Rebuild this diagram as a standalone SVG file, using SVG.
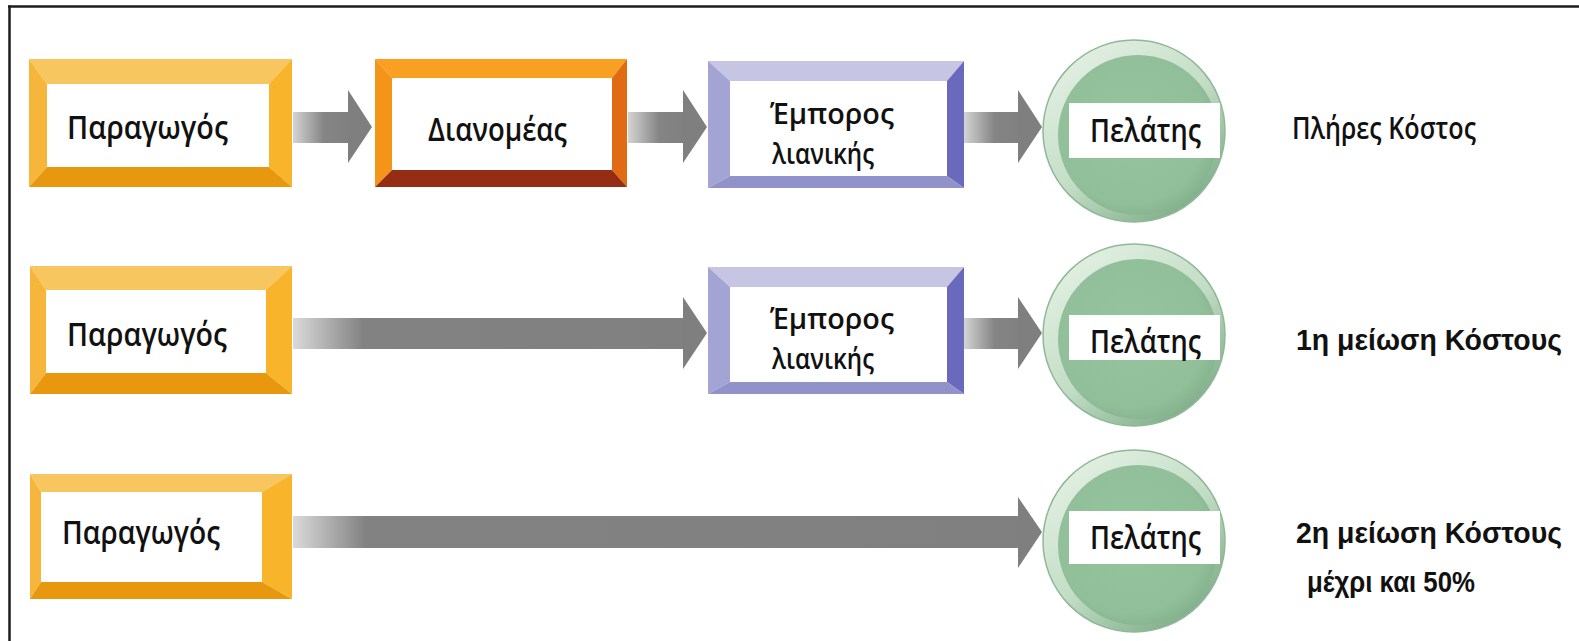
<svg xmlns="http://www.w3.org/2000/svg" width="1579" height="641" viewBox="0 0 1579 641">
<defs>
<linearGradient id="shS" x1="0" y1="0" x2="1" y2="0"><stop offset="0" stop-color="#d4d4d4"/><stop offset="0.55" stop-color="#858585"/><stop offset="1" stop-color="#808080"/></linearGradient>
<linearGradient id="shL2" x1="293" y1="0" x2="683" y2="0" gradientUnits="userSpaceOnUse"><stop offset="0" stop-color="#dadada"/><stop offset="0.18" stop-color="#828282"/><stop offset="1" stop-color="#808080"/></linearGradient>
<linearGradient id="shL3" x1="293" y1="0" x2="1018" y2="0" gradientUnits="userSpaceOnUse"><stop offset="0" stop-color="#dadada"/><stop offset="0.1" stop-color="#828282"/><stop offset="1" stop-color="#808080"/></linearGradient>
<linearGradient id="ring" x1="0.2" y1="0.1" x2="0.85" y2="0.95"><stop offset="0" stop-color="#e0eee0"/><stop offset="0.5" stop-color="#c2ddc5"/><stop offset="1" stop-color="#7aa984"/></linearGradient>
<radialGradient id="disc" cx="0.45" cy="0.45" r="0.6"><stop offset="0" stop-color="#96c49f"/><stop offset="0.8" stop-color="#90bf99"/><stop offset="1" stop-color="#82b18b"/></radialGradient>
</defs>
<style>
.lbl{font-family:"Open Sans","Liberation Sans",sans-serif;font-size:32px;fill:#111;font-weight:600}
.lbl2{font-family:"Open Sans","Liberation Sans",sans-serif;font-size:29px;fill:#111;font-weight:600}
.note{font-family:"Liberation Sans",Arial,sans-serif;font-size:29px;fill:#111;font-weight:bold}
.notem{font-family:"Open Sans","Liberation Sans",sans-serif;font-size:30px;fill:#111;font-weight:600}
.white{fill:#fff}
.y-t{fill:#f8c65e}.y-l{fill:#f6b63c}.y-r{fill:#f8b52c}.y-b{fill:#e8980e}
.o-t{fill:#f99f22}.o-l{fill:#f49419}.o-r{fill:#df6c14}.o-b{fill:#952d14}
.p-t{fill:#c6c6e4}.p-l{fill:#a3a3d4}.p-r{fill:#6a6abc}.p-b{fill:#9292cb}
.head{fill:#7f7f7f}
.ring{fill:url(#ring);stroke:#8fb897;stroke-width:1.5}
.disc{fill:url(#disc)}
</style>
<rect x="0" y="0" width="1579" height="641" fill="#fff"/>
<g id="frame" stroke="#1c1c1c" stroke-width="2.5" fill="none">
<line x1="8" y1="6.5" x2="1579" y2="6.5"/>
<line x1="9.5" y1="5.5" x2="9.5" y2="641"/>
</g>

<g id="connectors">
<rect x="293" y="112" width="56" height="31" fill="url(#shS)"/><polygon class="head" points="348,90 372,127 348,163"/>
<rect x="628" y="112" width="56" height="31" fill="url(#shS)"/><polygon class="head" points="683,90 707,127 683,163"/>
<rect x="964" y="112" width="55" height="31" fill="url(#shS)"/><polygon class="head" points="1018,90 1042,127 1018,163"/>
<rect x="293" y="318" width="391" height="31" fill="url(#shL2)"/><polygon class="head" points="683,297 707,333 683,369"/>
<rect x="964" y="318" width="55" height="31" fill="url(#shS)"/><polygon class="head" points="1018,297 1042,333 1018,369"/>
<rect x="293" y="516" width="726" height="32" fill="url(#shL3)"/><polygon class="head" points="1018,497 1042,532 1018,568"/>
</g>

<g id="n-producer-1">
<polygon class="y-t" points="29,59 292,59 269,84 47,84"/>
<polygon class="y-l" points="29,59 47,84 47,167 29,187"/>
<polygon class="y-r" points="292,59 292,187 269,167 269,84"/>
<polygon class="y-b" points="29,187 47,167 269,167 292,187"/>
<rect class="white" x="47" y="84" width="222" height="83"/>
<text class="lbl" x="67" y="139" textLength="161" lengthAdjust="spacingAndGlyphs">Παραγωγός</text>
</g>

<g id="n-distributor">
<polygon class="o-t" points="375,59 627,59 612,78 392,78"/>
<polygon class="o-l" points="375,59 392,78 392,170 375,187"/>
<polygon class="o-r" points="627,59 627,187 612,170 612,78"/>
<polygon class="o-b" points="375,187 392,170 612,170 627,187"/>
<rect class="white" x="392" y="78" width="220" height="92"/>
<text class="lbl" x="428" y="141" textLength="139" lengthAdjust="spacingAndGlyphs">Διανομέας</text>
</g>

<g id="n-retailer-1">
<polygon class="p-t" points="708,61 964,61 947,81 730,81"/>
<polygon class="p-l" points="708,61 730,81 730,176 708,188"/>
<polygon class="p-r" points="964,61 964,188 947,176 947,81"/>
<polygon class="p-b" points="708,188 730,176 947,176 964,188"/>
<rect class="white" x="730" y="81" width="217" height="95"/>
<text class="lbl2" x="770" y="124" textLength="124" lengthAdjust="spacingAndGlyphs">Έμπορος</text>
<text class="lbl2" x="772" y="164" textLength="102" lengthAdjust="spacingAndGlyphs">λιανικής</text>
</g>

<g id="n-customer-1">
<circle class="ring" cx="1134" cy="131" r="91"/>
<circle class="disc" cx="1138" cy="135" r="80"/>
<rect class="white" x="1069" y="103" width="151" height="55"/>
<text class="lbl" x="1090" y="142" textLength="111" lengthAdjust="spacingAndGlyphs">Πελάτης</text>
</g>
<g id="t-full-cost"><text class="notem" x="1292" y="139" textLength="184" lengthAdjust="spacingAndGlyphs">Πλήρες Κόστος</text></g>

<g id="n-producer-2">
<polygon class="y-t" points="30,266 292,266 266,290 46,290"/>
<polygon class="y-l" points="30,266 46,290 46,373 30,394"/>
<polygon class="y-r" points="292,266 292,394 266,373 266,290"/>
<polygon class="y-b" points="30,394 46,373 266,373 292,394"/>
<rect class="white" x="46" y="290" width="220" height="83"/>
<text class="lbl" x="67" y="346" textLength="160" lengthAdjust="spacingAndGlyphs">Παραγωγός</text>
</g>

<g id="n-retailer-2">
<polygon class="p-t" points="708,267 964,267 947,287 730,287"/>
<polygon class="p-l" points="708,267 730,287 730,382 708,394"/>
<polygon class="p-r" points="964,267 964,394 947,382 947,287"/>
<polygon class="p-b" points="708,394 730,382 947,382 964,394"/>
<rect class="white" x="730" y="287" width="217" height="95"/>
<text class="lbl2" x="770" y="329" textLength="124" lengthAdjust="spacingAndGlyphs">Έμπορος</text>
<text class="lbl2" x="772" y="369" textLength="102" lengthAdjust="spacingAndGlyphs">λιανικής</text>
</g>

<g id="n-customer-2">
<circle class="ring" cx="1134" cy="335" r="91"/>
<circle class="disc" cx="1138" cy="339" r="80"/>
<rect class="white" x="1069" y="315" width="151" height="45"/>
<text class="lbl" x="1090" y="353" textLength="111" lengthAdjust="spacingAndGlyphs">Πελάτης</text>
</g>
<g id="t-cut-1"><text class="note" x="1296" y="350" textLength="266" lengthAdjust="spacingAndGlyphs">1η μείωση Κόστους</text></g>

<g id="n-producer-3">
<polygon class="y-t" points="30,474 292,474 262,492 41,492"/>
<polygon class="y-l" points="30,474 41,492 41,582 30,599"/>
<polygon class="y-r" points="292,474 292,599 262,582 262,492"/>
<polygon class="y-b" points="30,599 41,582 262,582 292,599"/>
<rect class="white" x="41" y="492" width="221" height="90"/>
<text class="lbl" x="62" y="544" textLength="158" lengthAdjust="spacingAndGlyphs">Παραγωγός</text>
</g>

<g id="n-customer-3">
<circle class="ring" cx="1134" cy="541" r="91"/>
<circle class="disc" cx="1138" cy="545" r="80"/>
<rect class="white" x="1069" y="511" width="151" height="53"/>
<text class="lbl" x="1090" y="549" textLength="111" lengthAdjust="spacingAndGlyphs">Πελάτης</text>
</g>
<g id="t-cut-2">
<text class="note" x="1296" y="543" textLength="266" lengthAdjust="spacingAndGlyphs">2η μείωση Κόστους</text>
<text class="note" x="1307" y="592" textLength="168" lengthAdjust="spacingAndGlyphs">μέχρι και 50%</text>
</g>
</svg>
